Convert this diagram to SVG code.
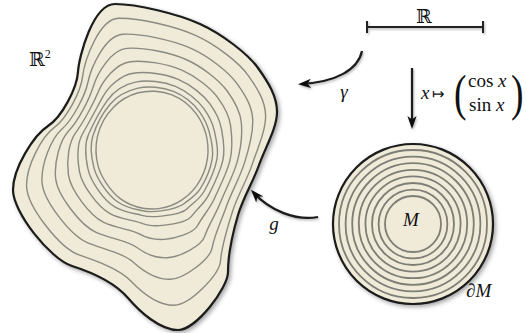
<svg xmlns="http://www.w3.org/2000/svg" width="526" height="333" viewBox="0 0 526 333">
<style>
.region{fill:#efebd8;stroke:#1a1a1a;stroke-width:2.2}
.contour{fill:none;stroke:#8a8a82;stroke-width:1.4}
.ring{fill:none;stroke:#7e7e76;stroke-width:1.8}
.conn{fill:none;stroke:#1a1a1a;stroke-width:2.2;marker-end:url(#ah)}
.bar{fill:none;stroke:#222;stroke-width:2}
text{fill:#111}
</style>
<defs>
<filter id="sh" x="-10%" y="-10%" width="125%" height="125%">
<feDropShadow dx="2" dy="2" stdDeviation="2.2" flood-color="#000" flood-opacity="0.35"/>
</filter>
<filter id="ash" x="-20%" y="-20%" width="150%" height="150%">
<feDropShadow dx="1" dy="1.5" stdDeviation="1.2" flood-color="#000" flood-opacity="0.3"/>
</filter>
<marker id="ah" viewBox="0 0 13 10" refX="10" refY="5" markerWidth="13" markerHeight="10" markerUnits="userSpaceOnUse" orient="auto">
<path d="M0,0.4 L13,5 L0,9.6 L3.5,5 Z" fill="#111"/>
</marker>
</defs>

<g id="plane">
<path class="region" filter="url(#sh)" d="M115,4 C137,4 178,14 200,24 S248,54 258,68 S277,96 277,112 S265,148 259,165 S243,198 238,215 S228,256 228,272 S196,330 178,330 S140,312 128,298 S94,273 72,266 S13,212 13,190 S34,135 48,126 S77,88 78,72 S93,4 115,4 Z"/>
<path class="contour" d="M118.7,18.2 C138.8,17.8 175.4,26.3 195.5,35.3 S238.9,62.4 248.1,75.3 S265.2,100.7 265.6,115.3 S257.7,148.1 252.3,164.1 S237.6,195.5 232.6,211.2 S221.6,246.4 220.6,260.5 S190,305.1 174.3,305.3 S141.9,292.6 130.8,281 S99.6,262.1 79.7,255.2 S27.1,206.5 26.6,186.2 S41.9,136.6 54.4,127.4 S80.8,91.5 82.6,76.6 S98.6,18.6 118.7,18.2 Z"/>
<path class="contour" d="M122.9,34.2 C140.9,33.3 172.5,40.1 190.5,48.1 S228.6,71.9 237,83.6 S252,106 252.7,119.1 S249.1,148.3 244.4,163.1 S231.3,192.5 226.3,206.7 S214.3,235.6 212.2,247.6 S183.8,278.9 170.5,279.3 S143.9,271.7 133.9,262.7 S105.9,249.9 88.4,243.1 S43,200.4 42,182 S51.3,138.5 62,129 S85.2,95.6 88,82 S104.9,35.1 122.9,34.2 Z"/>
<path class="contour" d="M126.7,48.4 C142.8,47 169.9,52.4 186,59.5 S219.5,80.4 227.2,91 S240.2,110.7 241.3,122.5 S241,148.4 237.1,162.1 S225.4,189.8 220.4,202.5 S207.9,226 204.8,236.1 S178.6,257.2 167.3,257.8 S145.6,254 136.5,247.3 S111.5,239 96.1,232.3 S57.2,194.9 55.6,178.2 S60,140.2 69,130.6 S89.4,99.4 93.1,87 S110.5,49.8 126.7,48.4 Z"/>
<path class="contour" d="M130.1,61.7 C144.5,59.9 167.5,63.9 181.8,70.1 S211,88.3 217.9,97.8 S229.2,115.1 230.6,125.6 S233,148.6 229.8,161.1 S219.5,187.1 214.5,198.3 S201.9,217 197.8,225.3 S174.1,238.7 164.6,239.4 S147.1,238.5 138.7,233.7 S116.7,228.8 103.3,222.2 S70.4,189.8 68.4,174.7 S68.7,142 76.1,132.1 S93.5,103.2 98.2,92 S115.8,63.5 130.1,61.7 Z"/>
<path class="contour" d="M133.2,73.3 C146,71.1 165.4,73.9 178.2,79.3 S203.6,95.2 209.9,103.8 S219.6,118.9 221.3,128.3 S225.5,148.7 222.9,160.2 S214,184.5 209,194.4 S196.6,209.2 191.8,215.9 S170.8,224.6 162.5,225.4 S148.3,226 140.6,222.8 S121.2,219.9 109.6,213.4 S81.9,185.3 79.5,171.6 S76.9,143.6 82.7,133.5 S97.4,106.7 102.9,96.7 S120.3,75.4 133.2,73.3 Z"/>
<path class="contour" d="M135.5,82.1 C147.2,79.7 163.8,81.6 175.4,86.4 S197.9,100.4 203.7,108.4 S212.3,121.8 214.2,130.4 S219,148.8 216.9,159.4 S209.2,182.3 204.3,191 S192.6,203.2 187.2,208.7 S168.5,215.2 161.1,216.1 S149.1,217.4 141.8,215.3 S124.7,213.1 114.4,206.7 S90.7,181.9 88,169.2 S83.9,145 88.4,134.7 S100.7,109.8 107,100.8 S123.9,84.5 135.5,82.1 Z"/>
<path class="contour" d="M137.1,88.4 C148,85.8 162.6,87 173.4,91.4 S193.9,104.1 199.4,111.6 S207.1,123.9 209.2,131.9 S213.9,148.9 212.2,158.8 S205.4,180.5 200.5,188.3 S189.8,199 183.9,203.7 S167.3,209.9 160.4,210.9 S149.6,212.2 142.6,210.7 S127.2,208.4 117.8,202 S96.9,179.5 93.9,167.6 S89.5,146.1 92.9,135.7 S103.4,112.2 110.3,104 S126.3,91 137.1,88.4 Z"/>
<path class="contour" d="M138.3,92.8 C148.5,90.1 161.8,90.8 172,94.9 S191.1,106.8 196.3,113.9 S203.4,125.4 205.6,132.9 S208.7,149 207.5,158.2 S201.6,178.7 196.7,185.6 S187.8,196 181.6,200.1 S166.7,207.4 160,208.4 S149.9,209.4 143,208.2 S128.9,205 120.2,198.6 S101.3,177.8 98.2,166.4 S95.1,147.2 97.4,136.7 S106,114.7 113.5,107.2 S128.1,95.5 138.3,92.8 Z"/>
<text x="29" y="66" font-family="'Liberation Serif', 'DejaVu Serif', serif" font-size="19">ℝ<tspan font-size="12" dy="-8">2</tspan></text>
</g>

<g id="interval">
<path class="bar" filter="url(#ash)" d="M367,27 H483 M367,21 V33 M483,21 V33"/>
<text x="424" y="23" font-family="'Liberation Serif', 'DejaVu Serif', serif" font-size="19" text-anchor="middle">ℝ</text>
</g>

<g id="disk">
<circle class="region" filter="url(#sh)" cx="413" cy="224" r="80"/>
<circle class="ring" cx="413" cy="224" r="74"/>
<circle class="ring" cx="413" cy="224" r="67.4"/>
<circle class="ring" cx="413" cy="224" r="60.8"/>
<circle class="ring" cx="413" cy="224" r="54.2"/>
<circle class="ring" cx="413" cy="224" r="47.6"/>
<circle class="ring" cx="413" cy="224" r="41"/>
<circle class="ring" cx="413" cy="224" r="34.4"/>
<circle class="ring" cx="413" cy="224" r="28"/>
<text x="411" y="226" font-family="'Liberation Serif', serif" font-style="italic" font-size="19" text-anchor="middle">M</text>
<text x="466" y="297" font-family="'Liberation Serif', serif" font-style="italic" font-size="19">∂M</text>
</g>

<g id="connectors" filter="url(#ash)">
<path class="conn" d="M362,51 C358,70 336,82 301,84"/>
<path class="conn" d="M412,68 L412,126"/>
<path class="conn" d="M318,217 C296,221 270,211 253,192"/>
</g>

<g id="labels">
<text x="344" y="98" font-family="'Liberation Serif', serif" font-style="italic" font-size="19" text-anchor="middle">γ</text>
<text x="274" y="230" font-family="'Liberation Serif', serif" font-style="italic" font-size="19" text-anchor="middle">g</text>
<text x="421" y="99" font-family="'Liberation Serif', serif" font-style="italic" font-size="19">x</text>
<text x="432" y="99" font-family="'DejaVu Sans', sans-serif" font-size="15">↦</text>
<text x="0" y="0" font-family="'Liberation Serif', serif" font-size="50" transform="translate(454,110) scale(0.75,1)">(</text>
<text x="0" y="0" font-family="'Liberation Serif', serif" font-size="50" transform="translate(511,110) scale(0.75,1)">)</text>
<text x="468" y="87" font-family="'Liberation Serif', serif" font-size="19">cos <tspan font-style="italic">x</tspan></text>
<text x="469" y="111" font-family="'Liberation Serif', serif" font-size="19">sin <tspan font-style="italic">x</tspan></text>
</g>
</svg>
